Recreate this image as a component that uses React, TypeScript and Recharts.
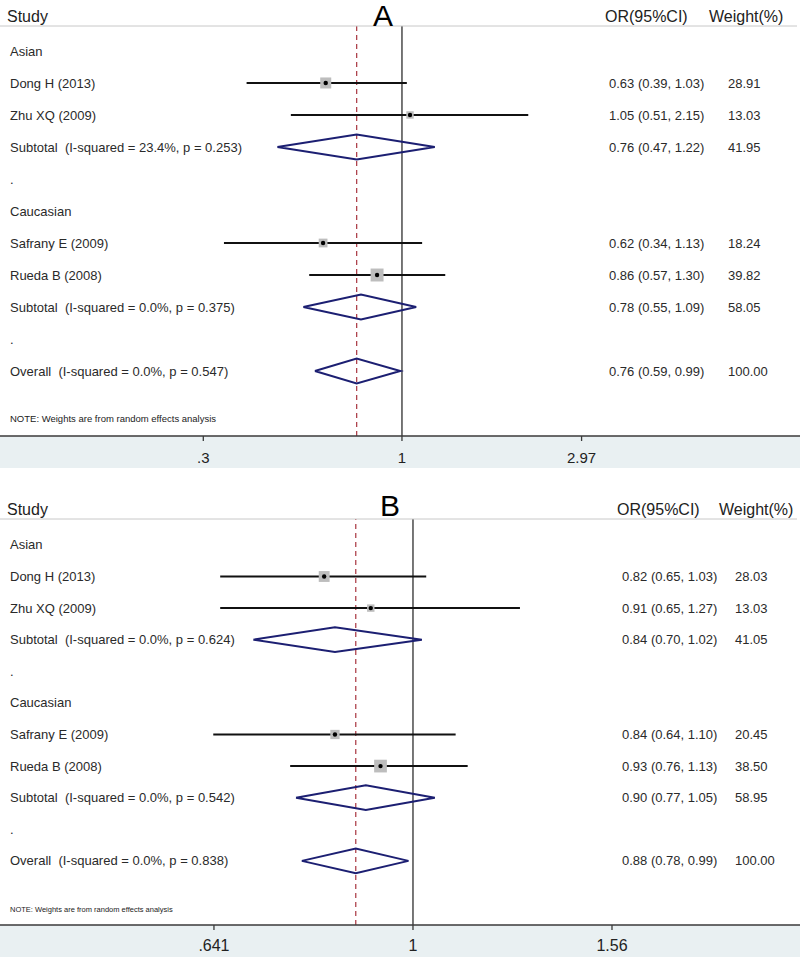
import React from "react";
import {
  ComposedChart,
  XAxis,
  YAxis,
  Scatter,
  ErrorBar,
  Line,
  ReferenceLine,
} from "recharts";

const FONT = '"Liberation Sans", Arial, sans-serif';

// row structure shared by both panels
const rowKinds = [
  "group",
  "study",
  "study",
  "subtotal",
  "gap",
  "group",
  "study",
  "study",
  "subtotal",
  "gap",
  "overall",
];

// Panel A
const labelsA = [
  "Asian",
  "Dong H (2013)",
  "Zhu XQ (2009)",
  "Subtotal  (I-squared = 23.4%, p = 0.253)",
  ".",
  "Caucasian",
  "Safrany E (2009)",
  "Rueda B (2008)",
  "Subtotal  (I-squared = 0.0%, p = 0.375)",
  ".",
  "Overall  (I-squared = 0.0%, p = 0.547)",
];
const orA = [null, 0.63, 1.05, 0.76, null, null, 0.62, 0.86, 0.78, null, 0.76];
const loA = [null, 0.39, 0.51, 0.47, null, null, 0.34, 0.57, 0.55, null, 0.59];
const hiA = [null, 1.03, 2.15, 1.22, null, null, 1.13, 1.3, 1.09, null, 0.99];
const weightA = [null, 28.91, 13.03, 41.95, null, null, 18.24, 39.82, 58.05, null, 100.0];
const ticksA = [0.3, 1, 2.97];
const tickLabelsA = [".3", "1", "2.97"];

// Panel B
const labelsB = [
  "Asian",
  "Dong H (2013)",
  "Zhu XQ (2009)",
  "Subtotal  (I-squared = 0.0%, p = 0.624)",
  ".",
  "Caucasian",
  "Safrany E (2009)",
  "Rueda B (2008)",
  "Subtotal  (I-squared = 0.0%, p = 0.542)",
  ".",
  "Overall  (I-squared = 0.0%, p = 0.838)",
];
const orB = [null, 0.82, 0.91, 0.84, null, null, 0.84, 0.93, 0.9, null, 0.88];
const loB = [null, 0.65, 0.65, 0.7, null, null, 0.64, 0.76, 0.77, null, 0.78];
const hiB = [null, 1.03, 1.27, 1.02, null, null, 1.1, 1.13, 1.05, null, 0.99];
const weightB = [null, 28.03, 13.03, 41.05, null, null, 20.45, 38.5, 58.95, null, 100.0];
const ticksB = [0.641, 1, 1.56];
const tickLabelsB = [".641", "1", "1.56"];

const NOTE = "NOTE: Weights are from random effects analysis";
const DIAMOND_HALF = 0.39;
const BAND = "#e9f0f2";

type Cfg = {
  letter: string;
  labels: string[];
  or: (number | null)[];
  lo: (number | null)[];
  hi: (number | null)[];
  weight: (number | null)[];
  ticks: number[];
  tickLabels: string[];
  xDomain: [number, number];
  yDomain: [number, number];
  top: number;
  height: number;
  orCol: number;
  wtCol: number;
  orHead: number;
  wtHead: number;
  noteY: number;
  noteSize: number;
  tickSize: number;
  letterX: number;
  letterY: number;
};

function ForestPanel({ cfg }: { cfg: Cfg }) {
  const rows = cfg.labels.map((label, i) => ({
    x: 1,
    y: i,
    label,
    kind: rowKinds[i],
    or: cfg.or[i],
    lo: cfg.lo[i],
    hi: cfg.hi[i],
    w: cfg.weight[i],
  }));

  const studies = rows
    .filter((r) => r.kind === "study")
    .map((r) => ({
      x: r.or as number,
      y: r.y,
      err: [(r.or as number) - (r.lo as number), (r.hi as number) - (r.or as number)],
      w: r.w as number,
    }));

  const diamonds = rows
    .filter((r) => r.kind === "subtotal" || r.kind === "overall")
    .map((r) => [
      { x: r.lo, y: r.y },
      { x: r.or, y: r.y - DIAMOND_HALF },
      { x: r.hi, y: r.y },
      { x: r.or, y: r.y + DIAMOND_HALF },
      { x: r.lo, y: r.y },
    ]);

  const overallOr = rows[rows.length - 1].or as number;
  const plotBottom = cfg.height - 32;
  const headY = cfg.top - 4;

  const renderRow = (p: any) => {
    const r = p.payload;
    const cy = p.cy;
    return (
      <g>
        <text
          x={10}
          y={cy}
          dy="0.35em"
          fontSize={13}
          fill="#2a2a2a"
          fontFamily={FONT}
          style={{ whiteSpace: "pre" }}
        >
          {r.label}
        </text>
        {r.or != null && (
          <text x={cfg.orCol} y={cy} dy="0.35em" fontSize={13} fill="#2a2a2a" fontFamily={FONT}>
            {`${r.or.toFixed(2)} (${r.lo.toFixed(2)}, ${r.hi.toFixed(2)})`}
          </text>
        )}
        {r.w != null && (
          <text x={cfg.wtCol} y={cy} dy="0.35em" fontSize={13} fill="#2a2a2a" fontFamily={FONT}>
            {r.w.toFixed(2)}
          </text>
        )}
      </g>
    );
  };

  const renderSquare = (p: any) => {
    const side = 2.05 * Math.sqrt(p.payload.w);
    return (
      <g>
        <rect x={p.cx - side / 2} y={p.cy - side / 2} width={side} height={side} fill="#bdbdbd" />
        <circle cx={p.cx} cy={p.cy} r={2.2} fill="#000" />
      </g>
    );
  };

  return (
    <div
      style={{
        position: "relative",
        width: 800,
        height: cfg.height,
        background: `linear-gradient(to bottom, #fff ${plotBottom}px, ${BAND} ${plotBottom}px)`,
      }}
    >
      <ComposedChart
        width={800}
        height={cfg.height}
        margin={{ top: cfg.top, right: 0, bottom: 0, left: 0 }}
      >
        <XAxis
          dataKey="x"
          type="number"
          scale="log"
          domain={cfg.xDomain}
          allowDataOverflow
          ticks={cfg.ticks}
          interval={0}
          height={32}
          tickSize={5}
          tickMargin={cfg.tickSize === 15 ? 11 : 10}
          tickFormatter={(v: number) => cfg.tickLabels[cfg.ticks.indexOf(v)] ?? String(v)}
          tick={{ fill: "#222", fontSize: cfg.tickSize, fontFamily: FONT }}
          axisLine={{ stroke: "#3a3a3a", strokeWidth: 1.3 }}
          tickLine={{ stroke: "#3a3a3a", strokeWidth: 1.3 }}
        />
        <YAxis dataKey="y" type="number" domain={cfg.yDomain} reversed hide allowDataOverflow />
        <ReferenceLine x={1} stroke="#4a4a4a" strokeWidth={1.5} />
        <ReferenceLine x={overallOr} stroke="#a8343f" strokeWidth={1.2} strokeDasharray="5 4" />
        <Scatter data={rows} shape={renderRow} isAnimationActive={false} />
        {diamonds.map((d, i) => (
          <Line
            key={i}
            data={d}
            dataKey="y"
            type="linear"
            stroke="#1c1f72"
            strokeWidth={2}
            dot={false}
            activeDot={false}
            isAnimationActive={false}
          />
        ))}
        <Scatter data={studies} shape={renderSquare} isAnimationActive={false}>
          <ErrorBar
            dataKey="err"
            direction="x"
            width={0}
            stroke="#111"
            strokeWidth={2}
            isAnimationActive={false}
          />
        </Scatter>
      </ComposedChart>
      <svg
        width={800}
        height={cfg.height}
        style={{ position: "absolute", left: 0, top: 0, pointerEvents: "none" }}
      >
        <line x1={0} x2={797} y1={cfg.top} y2={cfg.top} stroke="#c8c8c8" strokeWidth={1} />
        <text x={7} y={headY} fontSize={16} fill="#222" fontFamily={FONT}>
          Study
        </text>
        <text
          x={cfg.letterX}
          y={cfg.letterY}
          fontSize={30}
          fill="#000"
          fontFamily={FONT}
          textAnchor="middle"
        >
          {cfg.letter}
        </text>
        <text x={cfg.orHead} y={headY} fontSize={16} fill="#222" fontFamily={FONT}>
          OR(95%CI)
        </text>
        <text x={cfg.wtHead} y={headY} fontSize={16} fill="#222" fontFamily={FONT}>
          Weight(%)
        </text>
        <text x={10} y={cfg.noteY} dy="0.35em" fontSize={cfg.noteSize} fill="#222" fontFamily={FONT}>
          {NOTE}
        </text>
      </svg>
    </div>
  );
}

const cfgA: Cfg = {
  letter: "A",
  labels: labelsA,
  or: orA,
  lo: loA,
  hi: hiA,
  weight: weightA,
  ticks: ticksA,
  tickLabels: tickLabelsA,
  xDomain: [0.0875, 11.16],
  yDomain: [-0.78, 12.03],
  top: 26,
  height: 468,
  orCol: 609,
  wtCol: 728,
  orHead: 605,
  wtHead: 709,
  noteY: 419,
  noteSize: 9.5,
  tickSize: 15,
  letterX: 383,
  letterY: 26,
};

const cfgB: Cfg = {
  letter: "B",
  labels: labelsB,
  or: orB,
  lo: loB,
  hi: hiB,
  weight: weightB,
  ticks: ticksB,
  tickLabels: tickLabelsB,
  xDomain: [0.3974, 2.3745],
  yDomain: [-0.82, 12.03],
  top: 31,
  height: 469,
  orCol: 622,
  wtCol: 735,
  orHead: 617,
  wtHead: 719,
  noteY: 421,
  noteSize: 7.5,
  tickSize: 16,
  letterX: 390,
  letterY: 28,
};

export default function App() {
  return (
    <div style={{ position: "absolute", left: 0, top: 0, width: 800, background: "#fff" }}>
      <ForestPanel cfg={cfgA} />
      <div style={{ height: 20 }} />
      <ForestPanel cfg={cfgB} />
    </div>
  );
}
